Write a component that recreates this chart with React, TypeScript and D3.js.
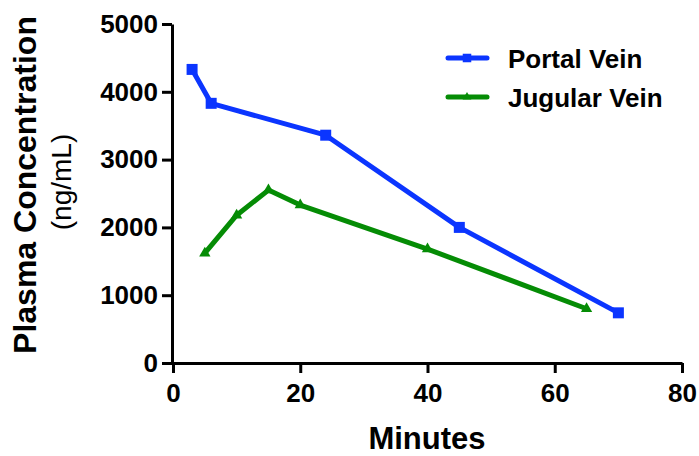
import { useEffect, useRef } from 'react';
import * as d3 from 'd3';

const portalTimes = [3, 6, 24, 45, 70];
const portalValues = [4330, 3830, 3360, 2000, 740];
const jugularTimes = [5, 10, 15, 20, 40, 65];
const jugularValues = [1620, 2180, 2550, 2330, 1680, 800];
const xTicks = [0, 20, 40, 60, 80];
const yTicks = [0, 1000, 2000, 3000, 4000, 5000];

const BLUE = '#0b35ff';
const GREEN = '#058c05';

function App() {
  const svgRef = useRef<SVGSVGElement | null>(null);
  const width = 699;
  const height = 456;

  useEffect(() => {
    const svg = d3.select(svgRef.current);
    svg.selectAll('*').remove();
    const font = 'Liberation Sans, Arial, sans-serif';

    const x = d3.scaleLinear().domain([0, 80]).range([173, 682]);
    const y = d3.scaleLinear().domain([0, 5000]).range([363, 24]);

    // axes
    const xAxis = svg.append('g').attr('transform', 'translate(0,363)')
      .call(d3.axisBottom(x).tickValues(xTicks).tickSize(10).tickSizeOuter(0).tickFormat(d3.format('d')));
    const yAxis = svg.append('g').attr('transform', 'translate(172,0)')
      .call(d3.axisLeft(y).tickValues(yTicks).tickSize(10).tickSizeOuter(0).tickFormat(d3.format('d')));
    [xAxis, yAxis].forEach((g) => {
      g.select('.domain').attr('stroke', '#000').attr('stroke-width', 3);
      g.selectAll('.tick line').attr('stroke', '#000').attr('stroke-width', 3);
      g.selectAll('.tick text')
        .attr('fill', '#000')
        .attr('font-family', font)
        .attr('font-weight', 'bold')
        .attr('font-size', 26);
    });
    xAxis.selectAll('.tick text').attr('dy', '1em');
    yAxis.selectAll('.tick text').attr('x', -14);

    // titles
    svg.append('text')
      .attr('x', 427).attr('y', 449)
      .attr('text-anchor', 'middle')
      .attr('font-family', font).attr('font-weight', 'bold').attr('font-size', 31)
      .text('Minutes');
    svg.append('text')
      .attr('transform', 'translate(36,185) rotate(-90)')
      .attr('text-anchor', 'middle')
      .attr('font-family', font).attr('font-weight', 'bold').attr('font-size', 32)
      .text('Plasma Concentration');
    svg.append('text')
      .attr('transform', 'translate(71,182) rotate(-90)')
      .attr('text-anchor', 'middle')
      .attr('font-family', font).attr('font-size', 28)
      .text('(ng/mL)');

    const series = [
      { name: 'Portal Vein', t: portalTimes, v: portalValues, color: BLUE, sym: d3.symbolSquare, size: 121 },
      { name: 'Jugular Vein', t: jugularTimes, v: jugularValues, color: GREEN, sym: d3.symbolTriangle, size: 55 },
    ];

    const line = d3.line<[number, number]>().x((d) => x(d[0])).y((d) => y(d[1]));

    series.forEach((s, i) => {
      const pts = s.t.map((t, j) => [t, s.v[j]] as [number, number]);
      svg.append('path')
        .attr('d', line(pts))
        .attr('fill', 'none')
        .attr('stroke', s.color)
        .attr('stroke-width', 5)
        .attr('stroke-linejoin', 'round');
      svg.append('g').selectAll('path')
        .data(pts)
        .enter()
        .append('path')
        .attr('transform', (d) => `translate(${x(d[0])},${y(d[1])})`)
        .attr('d', d3.symbol().type(s.sym).size(s.size)())
        .attr('fill', s.color);

      // legend
      const ly = 58 + i * 39;
      svg.append('line')
        .attr('x1', 448).attr('x2', 487).attr('y1', ly).attr('y2', ly)
        .attr('stroke', s.color).attr('stroke-width', 5).attr('stroke-linecap', 'round');
      svg.append('path')
        .attr('transform', `translate(467,${ly})`)
        .attr('d', d3.symbol().type(s.sym).size(s.size * 0.6)())
        .attr('fill', s.color);
      svg.append('text')
        .attr('x', 508).attr('y', ly + 10)
        .attr('font-family', font).attr('font-weight', 'bold').attr('font-size', 26)
        .text(s.name);
    });
  }, []);

  return (
    <svg ref={svgRef} width={width} height={height}
      style={{ position: 'absolute', left: 0, top: 0, background: '#fff' }} />
  );
}

export default App;
